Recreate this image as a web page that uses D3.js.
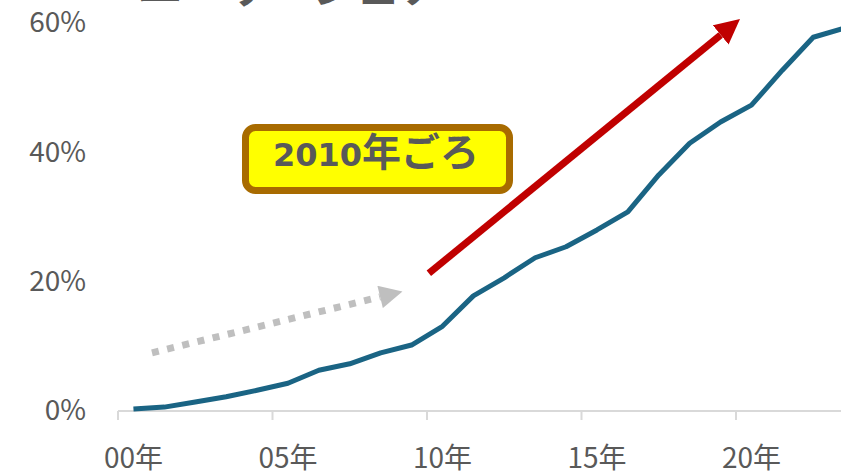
<!DOCTYPE html>
<html>
<head>
<meta charset="utf-8">
<script src="https://cdn.jsdelivr.net/npm/d3@7"></script>
<style>
  html, body { margin: 0; padding: 0; background: #fff; overflow: hidden; }
  svg { display: block; }
  text { font-family: "Noto Sans CJK JP", "Noto Sans", sans-serif; }
</style>
</head>
<body>
<svg id="chart" width="841" height="474"></svg>
<script>
// Yearly share (fraction), 2000 – 2023
const years = d3.range(2000, 2024);
const shares = [0.003, 0.006, 0.014, 0.022, 0.032, 0.043, 0.063, 0.073, 0.090, 0.102,
                0.131, 0.178, 0.206, 0.237, 0.254, 0.280, 0.308, 0.365, 0.414, 0.447,
                0.473, 0.527, 0.578, 0.592];
const yTicks = [0, 0.2, 0.4, 0.6];
const xLabelYears = [2000, 2005, 2010, 2015, 2020];
const titleText = "ユーザーシェア";
const calloutYear = "2010";
const calloutSuffix = "年ごろ";

// annotation arrows in data units: [yearPosition, share]
const slowTrend = [[2000.6, 0.090], [2008.8, 0.186]];
const fastTrend = [[2009.56, 0.213], [2019.63, 0.606]];

const svg = d3.select("#chart");
const step = 30.9;
const x0 = 118;

const x = d3.scaleBand()
  .domain(years)
  .range([x0, x0 + years.length * step])
  .paddingInner(0).paddingOuter(0);
const xc = d => x(d) + x.bandwidth() / 2;
// continuous year position for annotations
const xl = d3.scaleLinear()
  .domain([years[0] - 0.5, years[years.length - 1] + 0.5])
  .range(x.range());

const y = d3.scaleLinear().domain([0, 0.6]).range([411, 23]);

const labelColor = "#595959";

// title (top edge)
svg.append("text")
  .attr("x", 138).attr("y", 3)
  .attr("font-size", 44).attr("font-weight", 700)
  .attr("fill", labelColor)
  .text(titleText);

// y axis labels
svg.append("g")
  .attr("transform", "translate(86,0)")
  .call(d3.axisLeft(y).tickValues(yTicks).tickFormat(d3.format(".0%")).tickSize(0).tickPadding(0))
  .call(g => g.select(".domain").remove())
  .call(g => g.selectAll("text")
    .attr("font-family", '"Noto Sans CJK JP", sans-serif')
    .attr("font-size", 28).attr("fill", labelColor));

// x axis
const xAxis = svg.append("g").attr("transform", `translate(0,${y(0)})`);
xAxis.append("line")
  .attr("x1", x0).attr("x2", 841 + 20)
  .attr("stroke", "#d9d9d9").attr("stroke-width", 2);
xAxis.selectAll(".tick-mark")
  .data(xLabelYears)
  .join("line")
  .attr("class", "tick-mark")
  .attr("x1", d => x(d)).attr("x2", d => x(d))
  .attr("y1", 0).attr("y2", 9)
  .attr("stroke", "#d9d9d9").attr("stroke-width", 2);
xAxis.selectAll(".tick-label")
  .data(xLabelYears)
  .join("text")
  .attr("class", "tick-label")
  .attr("x", d => xc(d)).attr("y", 57)
  .attr("text-anchor", "middle")
  .attr("font-size", 28).attr("fill", labelColor)
  .text(d => String(d % 100).padStart(2, "0") + "年");

// arrow markers
const defs = svg.append("defs");
defs.append("marker")
  .attr("id", "headGray")
  .attr("viewBox", "0 0 10 10").attr("refX", 0).attr("refY", 5)
  .attr("markerUnits", "userSpaceOnUse")
  .attr("markerWidth", 26).attr("markerHeight", 23)
  .attr("orient", "auto")
  .append("path").attr("d", "M0,0 L10,5 L0,10 Z").attr("fill", "#bfbfbf");
defs.append("marker")
  .attr("id", "headRed")
  .attr("viewBox", "0 0 10 10").attr("refX", 0).attr("refY", 5)
  .attr("markerUnits", "userSpaceOnUse")
  .attr("markerWidth", 25).attr("markerHeight", 25)
  .attr("orient", "auto")
  .append("path").attr("d", "M0,0 L10,5 L0,10 Z").attr("fill", "#c00000");

// shorten a segment so the marker tip lands on the end point
function shaft(p, headLen) {
  const [a, b] = p.map(([u, v]) => [xl(u), y(v)]);
  const dx = b[0] - a[0], dy = b[1] - a[1];
  const L = Math.hypot(dx, dy);
  return [a, [b[0] - dx / L * headLen, b[1] - dy / L * headLen]];
}

const g1 = shaft(slowTrend, 26);
svg.append("line")
  .attr("x1", g1[0][0]).attr("y1", g1[0][1])
  .attr("x2", g1[1][0]).attr("y2", g1[1][1])
  .attr("stroke", "#bfbfbf").attr("stroke-width", 7)
  .attr("stroke-dasharray", "7,8.6")
  .attr("marker-end", "url(#headGray)");

const r1 = shaft(fastTrend, 25);
svg.append("line")
  .attr("x1", r1[0][0]).attr("y1", r1[0][1])
  .attr("x2", r1[1][0]).attr("y2", r1[1][1])
  .attr("stroke", "#c00000").attr("stroke-width", 7)
  .attr("marker-end", "url(#headRed)");

// data line
svg.append("path")
  .datum(years.map((yr, i) => [yr, shares[i]]))
  .attr("fill", "none")
  .attr("stroke", "#1a6484")
  .attr("stroke-width", 5)
  .attr("stroke-linejoin", "round")
  .attr("d", d3.line().x(d => xc(d[0])).y(d => y(d[1])));

// callout box
const box = svg.append("g");
box.append("rect")
  .attr("x", 245.5).attr("y", 127.5)
  .attr("width", 264).attr("height", 63)
  .attr("rx", 10).attr("ry", 10)
  .attr("fill", "#ffff00")
  .attr("stroke", "#a86b00").attr("stroke-width", 7);
const ct = box.append("text")
  .attr("x", 376).attr("y", 166)
  .attr("text-anchor", "middle")
  .attr("font-weight", 700)
  .attr("fill", labelColor);
ct.append("tspan")
  .attr("font-family", '"DejaVu Sans", sans-serif')
  .attr("font-size", 32)
  .text(calloutYear);
ct.append("tspan")
  .attr("font-size", 39)
  .text(calloutSuffix);
</script>
</body>
</html>
